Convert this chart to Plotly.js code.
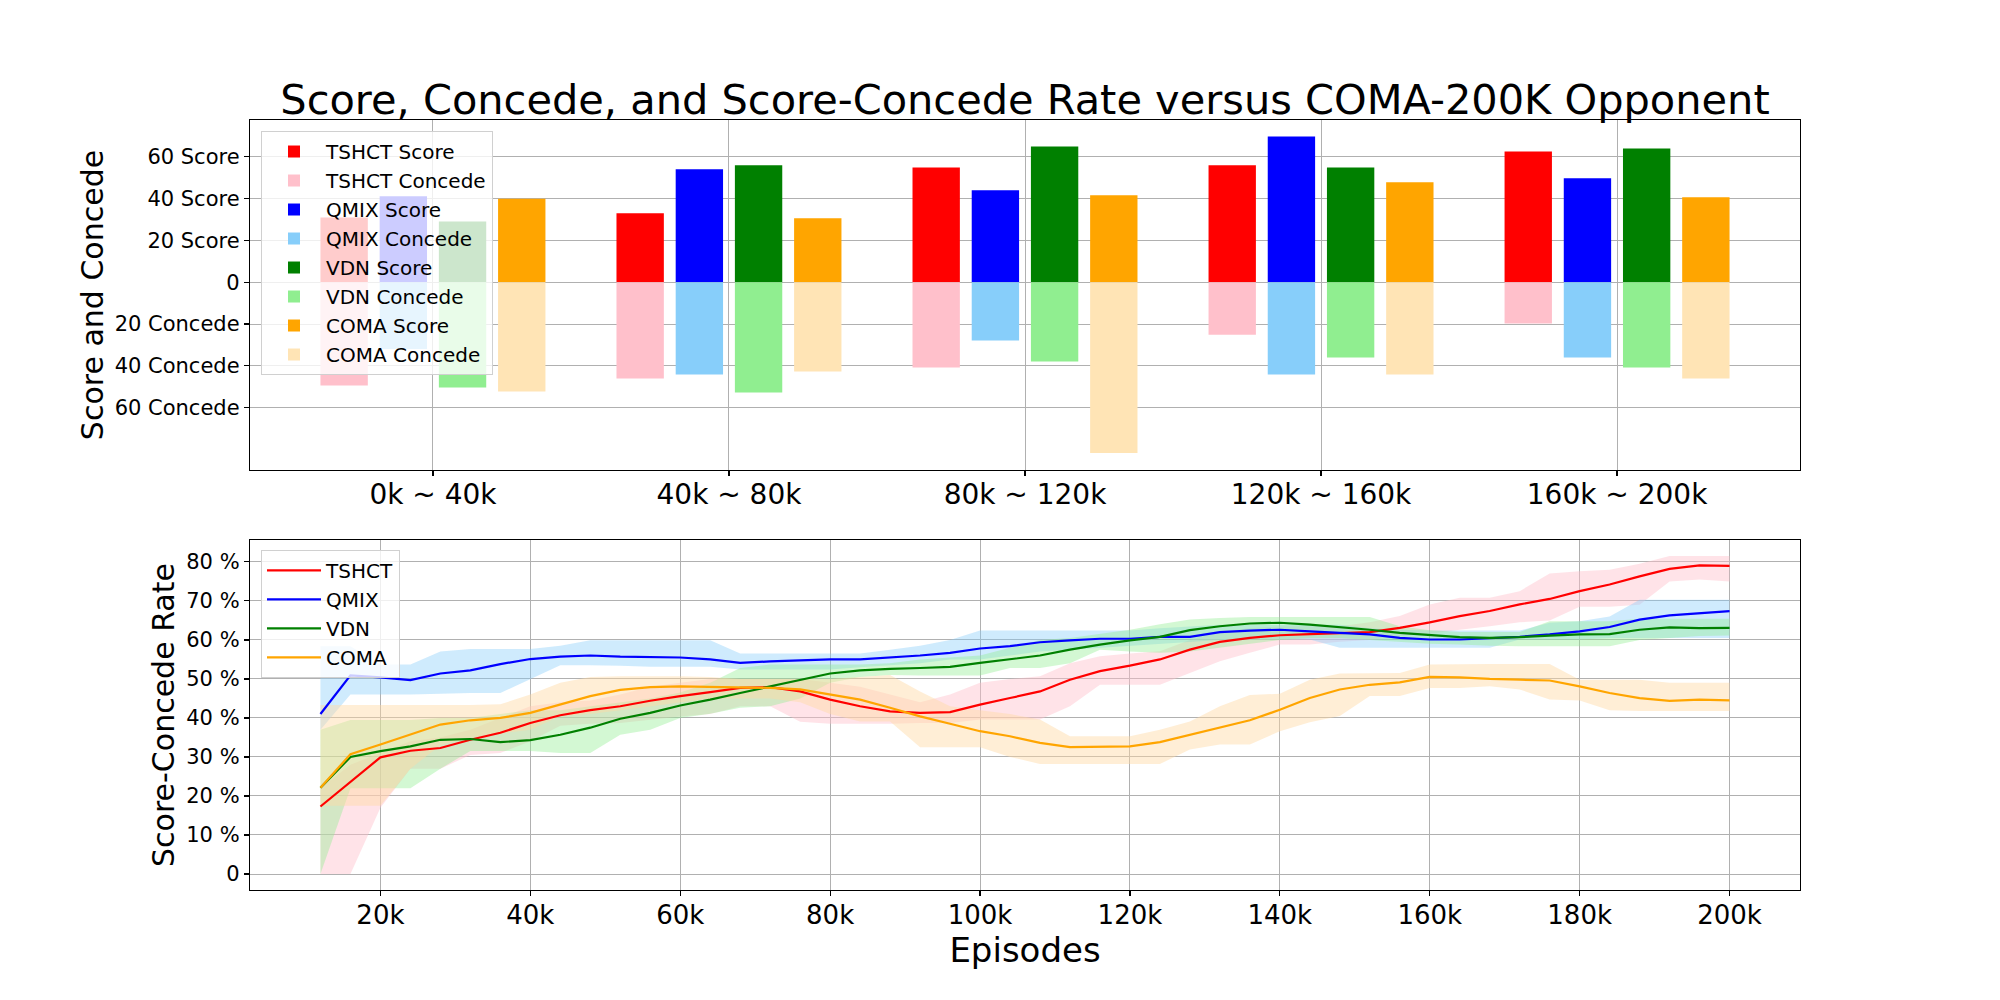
<!DOCTYPE html>
<html>
<head>
<meta charset="utf-8">
<script src="https://cdn.plot.ly/plotly-3.0.1.min.js"></script>
<style>
  html, body { margin: 0; padding: 0; background: #fff; }
  #myDiv { width: 2000px; height: 1000px; }
</style>
</head>
<body>
<div id="myDiv"></div>
<script>
// ---- top chart: score / concede per training period ----
var periods = ['0k ~ 40k', '40k ~ 80k', '80k ~ 120k', '120k ~ 160k', '160k ~ 200k'];
var tshctScore = [31.0, 33.0, 54.9, 55.9, 62.5];
var tshctConcede = [49.4, 46.0, 40.8, 25.1, 19.8];
var qmixScore = [41.1, 54.0, 44.0, 69.7, 49.7];
var qmixConcede = [31.9, 44.1, 27.9, 44.1, 36.0];
var vdnScore = [29.0, 55.9, 64.9, 54.9, 64.0];
var vdnConcede = [50.4, 52.7, 37.9, 36.0, 40.8];
var comaScore = [39.9, 30.6, 41.6, 47.8, 40.6];
var comaConcede = [52.3, 42.7, 81.7, 44.1, 46.0];

// ---- bottom chart: score-concede rate (%) with min/max band ----
var episodes = [12000,16000,20000,24000,28000,32000,36000,40000,44000,48000,52000,56000,
  60000,64000,68000,72000,76000,80000,84000,88000,92000,96000,100000,104000,108000,112000,
  116000,120000,124000,128000,132000,136000,140000,144000,148000,152000,156000,160000,
  164000,168000,172000,176000,180000,184000,188000,192000,196000,200000];

var tshctRate = [17.3,23.6,29.9,31.6,32.3,34.4,36.2,38.7,40.7,42.0,43.0,44.4,45.6,46.6,47.7,47.9,
  46.8,44.7,43.0,41.7,41.3,41.5,43.4,45.1,46.8,49.8,52.0,53.4,55.0,57.5,59.5,60.5,61.2,61.5,61.8,
  62.0,63.1,64.5,66.1,67.4,69.1,70.5,72.5,74.2,76.3,78.2,79.1,79.0];
var tshctLow = [0,0,17,27,27,30.5,31,34,38,38.5,38.7,39.5,40.4,41,43,43,39,38.5,38.5,38.5,38.7,38.7,
  39.6,39.6,39.6,43,48.5,48.5,48.5,51.5,54.5,56.7,58.8,58.8,59.5,60,61,61.5,62.6,63.5,64.5,65,68.5,
  68.5,69,75,75.5,75];
var tshctHigh = [22,28,31,34,35,37,40,43,44,44.5,46,48,49,50,50,50,50,49,48,46,44,46,49,50,50.7,54,
  55.8,56.5,57.1,60,62,63,63.5,63.5,63.5,64.5,66.1,69.1,70.8,70.8,72.5,77,77.6,78,79.5,81.5,81.5,81.5];

var qmixRate = [41.0,50.9,50.4,49.7,51.4,52.2,53.8,55.1,55.7,56.0,55.7,55.6,55.5,55.0,54.1,54.5,
  54.8,55.0,55.0,55.5,56.0,56.7,57.8,58.4,59.4,59.9,60.3,60.3,60.8,60.8,62.0,62.4,62.6,62.2,61.8,
  61.4,60.5,60.1,60.1,60.5,60.8,61.4,62.2,63.3,65.2,66.3,66.9,67.4];
var qmixLow = [37,46,46,46,46.2,46.4,46.4,50,53.5,53.5,53.4,53.1,53.1,53.1,52.4,52.4,52.4,52.4,53,
  53.5,54,55,55,56,57,57.5,58,58.5,59,59.5,60,60.1,60.1,60.1,58,58,58,58,58,58,60.1,60.1,60.1,60.5,
  60.5,60.5,60.5,60.5];
var qmixHigh = [58.4,58.4,53.7,53.7,57.0,57.7,57.7,57.7,58.5,59.9,59.9,59.9,59.9,59.9,56.5,56.5,
  56.5,56.5,56.5,57.5,58.5,60,62.4,62.4,62.4,62.4,62.4,62.4,63,63.5,63.9,63.9,63.9,63.9,63.9,63,
  62.6,62.4,62.4,62.4,62.4,64.4,64.8,66,70.3,70.3,70.3,70.3];

var vdnRate = [22.1,30.0,31.5,32.7,34.4,34.6,33.8,34.3,35.7,37.5,39.8,41.3,43.2,44.7,46.4,48.1,
  49.8,51.4,52.2,52.6,52.8,53.1,54.1,55.0,56.0,57.5,58.8,59.9,60.8,62.5,63.5,64.2,64.4,63.9,63.3,
  62.6,61.8,61.2,60.7,60.5,60.7,61.1,61.4,61.5,62.6,63.2,63.0,63.1];
var vdnLow = [0,22,22,22,27,31.5,31.5,31.5,31,31,35.7,37,40,41.1,42.6,43,45,49,50.5,51,50.9,50.9,
  50.9,52.8,52.8,54,57.5,57,56.7,57,58,59,60,60.5,60.5,60,59.5,59,58.8,58.5,58.4,58.4,58.4,58.4,
  60,60.5,61,61.1];
var vdnHigh = [37,39.5,39.5,39.5,40,40,41,42,42,43,44,45,46.5,49,52.8,53.7,53.7,53.7,53.7,54,55,
  55.5,56,58,60,60.5,61.5,62.6,64,65.2,65.6,65.9,65.9,65.9,65.9,65.9,63.5,62.5,62,62,62,64.8,64.8,
  64.8,65.4,65.4,65.4,65.4];

var comaRate = [22.1,30.7,33.2,35.7,38.3,39.4,40.0,41.3,43.4,45.6,47.2,47.9,48.1,48.0,47.9,47.7,
  47.3,46.0,44.7,42.6,40.4,38.5,36.6,35.3,33.6,32.5,32.6,32.7,33.8,35.7,37.5,39.4,42.1,45.1,47.3,
  48.5,49.1,50.5,50.4,50.0,49.8,49.6,48.1,46.4,45.1,44.4,44.7,44.5];
var comaLow = [17.5,17.5,17.5,27,33,35,36,37,40.5,41,42,43,44,45,45,45,44,41,39.1,39.1,32.5,32.5,
  32.5,30,28.2,28.2,28.2,28.2,28.2,31.9,33.2,33.2,36.6,38.9,40.5,45.6,45.6,47.7,47.7,48.1,47.3,
  44.7,44.5,42,41.8,41.8,41.8,41.8];
var comaHigh = [43.3,43.3,43.3,43.3,43.3,43.3,43.5,46,49,50.5,50.7,50.7,50.7,50.5,50,50,50,50,50.5,
  51,46.8,43,42,41,39.6,35.3,35.3,35.3,37,39.1,43,45.9,46.2,49.8,51.4,51.4,51.5,53.7,53.8,53.8,
  53.8,53.8,49.8,49.8,49.8,49,49,49];

var rateTicks = [20000,40000,60000,80000,100000,120000,140000,160000,180000,200000];
var rateTickText = ['20k','40k','60k','80k','100k','120k','140k','160k','180k','200k'];
var scoreTicks = [-60,-40,-20,0,20,40,60];
var scoreTickText = ['60 Concede','40 Concede','20 Concede','0','20 Score','40 Score','60 Score'];
var pctTicks = [0,10,20,30,40,50,60,70,80];
var pctTickText = ['0','10 %','20 %','30 %','40 %','50 %','60 %','70 %','80 %'];

var algos = ['TSHCT', 'QMIX', 'VDN', 'COMA'];
var scoreColors = ['red', 'blue', 'green', 'orange'];
var concedeColors = ['pink', 'lightskyblue', 'lightgreen', 'moccasin'];
var bandColors = ['rgba(255,192,203,0.45)', 'rgba(135,206,250,0.4)',
                  'rgba(144,238,144,0.4)', 'rgba(255,218,165,0.45)'];

var scores = [tshctScore, qmixScore, vdnScore, comaScore];
var concedes = [tshctConcede, qmixConcede, vdnConcede, comaConcede];
var rates = [tshctRate, qmixRate, vdnRate, comaRate];
var lows = [tshctLow, qmixLow, vdnLow, comaLow];
var highs = [tshctHigh, qmixHigh, vdnHigh, comaHigh];

var data = [];
var barW = 0.16;
for (var i = 0; i < algos.length; i++) {
  var off = -0.38 + 0.2 * i;
  data.push({
    x: periods, y: scores[i], name: algos[i] + ' Score', type: 'bar',
    width: barW, offset: off, marker: {color: scoreColors[i]},
    xaxis: 'x', yaxis: 'y', legend: 'legend'
  });
  data.push({
    x: periods, y: concedes[i].map(function (v) { return -v; }),
    name: algos[i] + ' Concede', type: 'bar',
    width: barW, offset: off, marker: {color: concedeColors[i]},
    xaxis: 'x', yaxis: 'y', legend: 'legend'
  });
}

// bands first so every line sits on top
for (var j = 0; j < algos.length; j++) {
  data.push({
    x: episodes, y: lows[j], type: 'scatter', mode: 'lines',
    line: {width: 0, color: bandColors[j]}, showlegend: false, hoverinfo: 'skip',
    xaxis: 'x2', yaxis: 'y2'
  });
  data.push({
    x: episodes, y: highs[j], type: 'scatter', mode: 'lines', fill: 'tonexty',
    fillcolor: bandColors[j], line: {width: 0, color: bandColors[j]},
    showlegend: false, hoverinfo: 'skip', xaxis: 'x2', yaxis: 'y2'
  });
}
for (var k = 0; k < algos.length; k++) {
  data.push({
    x: episodes, y: rates[k], name: algos[k], type: 'scatter', mode: 'lines',
    line: {color: scoreColors[k], width: 2.2},
    xaxis: 'x2', yaxis: 'y2', legend: 'legend2'
  });
}

var font = 'DejaVu Sans, sans-serif';
var axisCommon = {
  showline: true, mirror: true, linecolor: '#000', linewidth: 1.2,
  ticks: 'outside', ticklen: 5, tickcolor: '#000', tickwidth: 1.2,
  showgrid: true, gridcolor: '#b0b0b0', gridwidth: 1, zeroline: false
};
function ax(extra) {
  var o = {};
  for (var key in axisCommon) o[key] = axisCommon[key];
  for (var key2 in extra) o[key2] = extra[key2];
  return o;
}

var legendStyle = {
  bgcolor: 'rgba(255,255,255,0.8)', bordercolor: '#d0d0d0', borderwidth: 1,
  font: {family: font, size: 20, color: '#000'}, xanchor: 'left', yanchor: 'top',
  itemwidth: 54, traceorder: 'normal'
};

var layout = {
  width: 2000, height: 1000,
  paper_bgcolor: '#fff', plot_bgcolor: '#fff',
  font: {family: font, color: '#000'},
  margin: {l: 250, r: 200, t: 120, b: 110},
  barmode: 'overlay',
  showlegend: true,
  title: {
    text: 'Score, Concede, and Score-Concede Rate versus COMA-200K Opponent',
    font: {family: font, size: 41.5, color: '#000'},
    x: 0.5, xref: 'paper', y: 0.901, yanchor: 'middle'
  },
  xaxis: ax({
    domain: [0, 1], anchor: 'y', type: 'category', categoryorder: 'array',
    categoryarray: periods, range: [-0.618, 4.618],
    tickfont: {family: font, size: 28}, ticklabelstandoff: -6
  }),
  yaxis: ax({
    domain: [0.5455, 1], anchor: 'x', range: [-89.8, 77.6],
    tickmode: 'array', tickvals: scoreTicks, ticktext: scoreTickText,
    tickfont: {family: font, size: 21},
    title: {text: 'Score and Concede', font: {family: font, size: 30}, standoff: 2}
  }),
  xaxis2: ax({
    domain: [0, 1], anchor: 'y2', range: [2600, 209400],
    tickmode: 'array', tickvals: rateTicks, ticktext: rateTickText,
    tickfont: {family: font, size: 26}, ticklabelstandoff: -3,
    title: {text: 'Episodes', font: {family: font, size: 34}, standoff: 0}
  }),
  yaxis2: ax({
    domain: [0, 0.4545], anchor: 'x2', range: [-4.1, 85.6],
    tickmode: 'array', tickvals: pctTicks, ticktext: pctTickText,
    tickfont: {family: font, size: 21},
    title: {text: 'Score-Concede Rate', font: {family: font, size: 30}, standoff: 2}
  }),
  legend: Object.assign({x: 0.0071, y: 0.9857}, legendStyle),
  legend2: Object.assign({x: 0.0071, y: 0.4416}, legendStyle)
};

Plotly.newPlot('myDiv', data, layout, {displayModeBar: false, staticPlot: true});
</script>
</body>
</html>
